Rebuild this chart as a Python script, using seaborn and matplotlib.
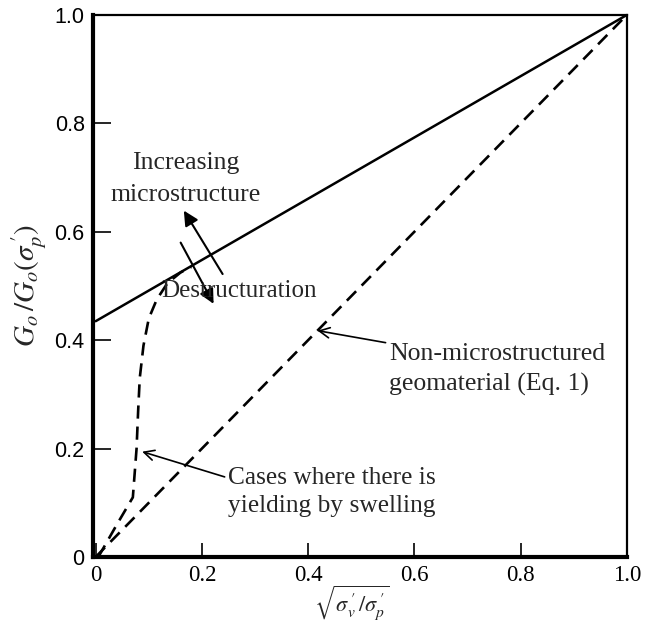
import matplotlib
matplotlib.use("Agg")
import matplotlib.pyplot as plt
import seaborn as sns
import pandas as pd

# data
micro_x = [0.0, 1.0]
micro_y = [0.435, 1.0]
nonmicro_x = [0.0, 1.0]
nonmicro_y = [0.0, 1.0]
swell_x = [0.005, 0.04, 0.07, 0.077, 0.080, 0.083, 0.09, 0.10, 0.115, 0.135, 0.16, 0.18]
swell_y = [0.0, 0.06, 0.11, 0.20, 0.27, 0.33, 0.39, 0.44, 0.475, 0.505, 0.525, 0.535]
tick_vals = [0, 0.2, 0.4, 0.6, 0.8, 1.0]
tick_labels = ["0", "0.2", "0.4", "0.6", "0.8", "1.0"]

sns.set_theme(style="ticks")
plt.rcParams["font.family"] = ["Liberation Serif", "DejaVu Serif"]
plt.rcParams["mathtext.fontset"] = "stix"

fig = plt.figure(figsize=(6.55, 6.23), dpi=100)
ax = fig.add_axes([0.142, 0.106, 0.815, 0.870])

df_m = pd.DataFrame({"x": micro_x, "y": micro_y})
df_n = pd.DataFrame({"x": nonmicro_x, "y": nonmicro_y})
df_s = pd.DataFrame({"x": swell_x, "y": swell_y})
sns.lineplot(data=df_m, x="x", y="y", ax=ax, color="black", lw=1.8, sort=False)
sns.lineplot(data=df_n, x="x", y="y", ax=ax, color="black", lw=1.9, sort=False,
             linestyle=(0, (5, 3)))
sns.lineplot(data=df_s, x="x", y="y", ax=ax, color="black", lw=1.9, sort=False,
             linestyle=(0, (5, 3)))

ax.set_xlim(-0.005, 1.0)
ax.set_ylim(0, 1.0)
ax.set_xticks(tick_vals)
ax.set_xticklabels(tick_labels)
ax.set_yticks(tick_vals)
ax.set_yticklabels(tick_labels, family=["Liberation Sans", "DejaVu Sans"])
ax.tick_params(axis="x", direction="in", length=10, width=1.2, colors="black",
               labelsize=16.5, pad=6)
ax.tick_params(axis="y", direction="in", length=13, width=1.2, colors="black",
               labelsize=15.5, pad=6)
for s in ["left", "bottom"]:
    ax.spines[s].set_linewidth(3.0)
for s in ["top", "right"]:
    ax.spines[s].set_linewidth(1.6)
for s in ax.spines.values():
    s.set_color("black")

ax.set_xlabel(r"$\sqrt{\sigma_v^{\,\prime}\,/\sigma_p^{\,\prime}}$", fontsize=16,
              va="center")
ax.xaxis.set_label_coords(0.485, -0.086)
ax.set_ylabel(r"$G_o\,/G_o(\sigma_p^{\,\prime})$", fontsize=21, labelpad=4)

# two parallel arrows across the solid line
ax.annotate("", xy=(0.166, 0.639), xytext=(0.239, 0.522),
            arrowprops=dict(arrowstyle="-|>", color="black", lw=1.5,
                            mutation_scale=22, shrinkA=0, shrinkB=0))
ax.annotate("", xy=(0.222, 0.467), xytext=(0.160, 0.580),
            arrowprops=dict(arrowstyle="-|>", color="black", lw=1.5,
                            mutation_scale=22, shrinkA=0, shrinkB=0))

ax.text(0.169, 0.726, "Increasing", ha="center", va="center", fontsize=18.5)
ax.text(0.169, 0.667, "microstructure", ha="center", va="center", fontsize=18.5)
ax.text(0.124, 0.49, "Destructuration", ha="left", va="center", fontsize=18)

ax.annotate("Non-microstructured\ngeomaterial (Eq. 1)", xy=(0.415, 0.418),
            xytext=(0.552, 0.346), ha="left", va="center", fontsize=18.5,
            linespacing=1.4,
            arrowprops=dict(arrowstyle="->", color="black", lw=1.2,
                            shrinkA=0, shrinkB=1,
                            connectionstyle="angle,angleA=0,angleB=-10,rad=0",
                            relpos=(0, 0.76)))
ax.annotate("Cases where there is\nyielding by swelling", xy=(0.085, 0.195),
            xytext=(0.249, 0.12), ha="left", va="center", fontsize=18.3,
            linespacing=1.35,
            arrowprops=dict(arrowstyle="->", color="black", lw=1.2,
                            shrinkA=0, shrinkB=1,
                            connectionstyle="angle,angleA=0,angleB=-17,rad=0",
                            relpos=(0, 0.76)))

fig.savefig("out.png", dpi=100)
